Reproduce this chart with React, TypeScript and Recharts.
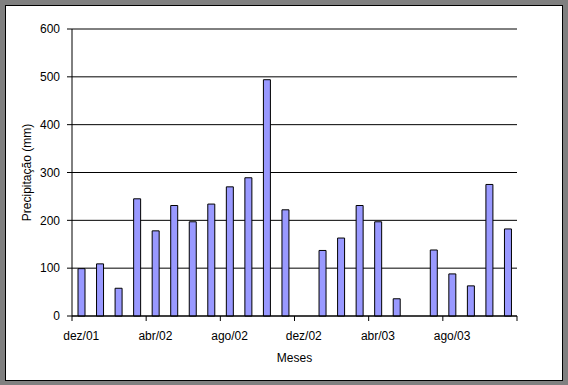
import React from "react";
import { Bar, BarChart, CartesianGrid, XAxis, YAxis } from "recharts";

const months = [
  "dez/01", "jan/02", "fev/02", "mar/02", "abr/02", "mai/02",
  "jun/02", "jul/02", "ago/02", "set/02", "out/02", "nov/02",
  "dez/02", "jan/03", "fev/03", "mar/03", "abr/03", "mai/03",
  "jun/03", "jul/03", "ago/03", "set/03", "out/03", "nov/03",
];

const rain: (number | null)[] = [
  99, 109, 58, 245, 178, 231, 197, 234, 270, 289, 494, 222,
  null, 137, 163, 231, 197, 36, null, 138, 88, 63, 275, 182,
];

const yTicks = [0, 100, 200, 300, 400, 500, 600];

const data = months.map((m, i) => ({ month: m, rain: rain[i] }));

const FONT = "'Liberation Sans', Arial, sans-serif";

function MonthTick(props: any) {
  const { x, y, payload, index } = props;
  const off = payload?.offset ?? 445 / 24 / 2;
  const last = index === months.length - 1;
  return (
    <g>
      {index % 4 === 0 && (
        <>
          <line x1={x - off} x2={x - off} y1={y} y2={y + 5} stroke="#000" />
          <text x={x} y={y + 24} textAnchor="middle" fill="#000" fontSize={12} fontFamily={FONT}>
            {payload.value}
          </text>
        </>
      )}
      {last && <line x1={x + off} x2={x + off} y1={y} y2={y + 5} stroke="#000" />}
    </g>
  );
}

export default function App() {
  return (
    <div style={{ position: "absolute", left: 0, top: 0, width: 568, height: 385, background: "#808080" }}>
      <div
        style={{
          position: "absolute",
          left: 5,
          top: 5,
          width: 558,
          height: 376,
          background: "#fff",
          border: "1px solid #000",
          boxSizing: "border-box",
        }}
      />
      <div style={{ position: "absolute", left: 0, top: 0 }}>
        <BarChart
          width={568}
          height={385}
          data={data}
          margin={{ top: 29, right: 51, left: 12, bottom: 19 }}
          style={{ fontFamily: FONT }}
        >
          <CartesianGrid vertical={false} stroke="#000" strokeDasharray="" />
          <XAxis
            dataKey="month"
            interval={0}
            height={50}
            tickSize={0}
            tickMargin={0}
            tickLine={false}
            axisLine={{ stroke: "#000" }}
            tick={<MonthTick />}
            label={{ value: "Meses", position: "insideBottom", offset: 4, fill: "#000", fontSize: 12 }}
          />
          <YAxis
            width={60}
            domain={[0, 600]}
            ticks={yTicks}
            interval={0}
            tickSize={5}
            tickMargin={7}
            axisLine={{ stroke: "#000" }}
            tickLine={{ stroke: "#000" }}
            tick={{ fill: "#000", fontSize: 12 }}
            label={{
              value: "Precipitação (mm)",
              angle: -90,
              position: "insideLeft",
              offset: 15,
              fill: "#000",
              fontSize: 12,
              style: { textAnchor: "middle" },
            }}
          />
          <YAxis
            yAxisId="right"
            orientation="right"
            width={0}
            domain={[0, 600]}
            tick={false}
            tickLine={false}
            axisLine={{ stroke: "#000" }}
          />
          <Bar dataKey="rain" fill="#9999FF" stroke="#000" strokeWidth={1} barSize={7} isAnimationActive={false} />
        </BarChart>
      </div>
    </div>
  );
}
